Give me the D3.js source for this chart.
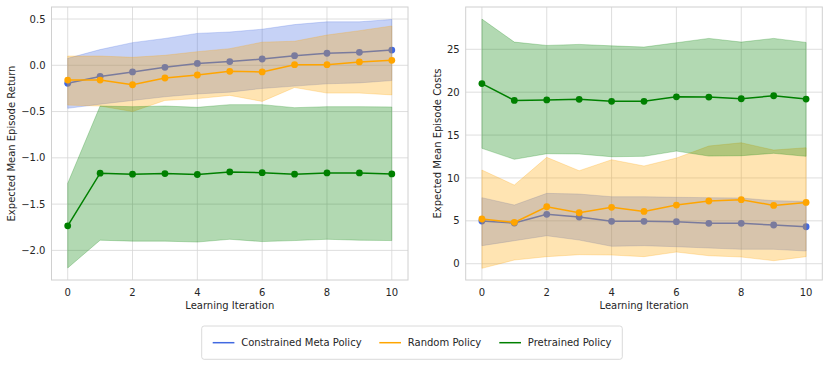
<!DOCTYPE html>
<html>
<head>
<meta charset="utf-8">
<script src="https://cdn.jsdelivr.net/npm/d3@7"></script>
<style>
  body { margin: 0; background: #fff; }
  text { font-family: "DejaVu Sans", sans-serif; fill: #262626; }
</style>
</head>
<body>
<svg width="830" height="367"></svg>
<script>
// iterations
const iters = [0, 1, 2, 3, 4, 5, 6, 7, 8, 9, 10];

const seriesNames = ["Constrained Meta Policy", "Random Policy", "Pretrained Policy"];
const seriesColors = ["#4169e1", "#ffa500", "#008000"];

// left panel: expected mean episode return
const retMeta = [-0.195, -0.12, -0.072, -0.022, 0.02, 0.04, 0.068, 0.104, 0.13, 0.14, 0.165];
const retMetaHi = [0.075, 0.17, 0.245, 0.29, 0.345, 0.36, 0.39, 0.44, 0.47, 0.47, 0.495];
const retMetaLo = [-0.465, -0.42, -0.38, -0.34, -0.31, -0.29, -0.25, -0.225, -0.2, -0.19, -0.165];
const retRand = [-0.16, -0.16, -0.21, -0.137, -0.105, -0.065, -0.072, 0.007, 0.007, 0.036, 0.054];
const retRandHi = [0.1, 0.1, 0.086, 0.108, 0.147, 0.18, 0.25, 0.26, 0.327, 0.374, 0.425];
const retRandLo = [-0.43, -0.44, -0.5, -0.38, -0.36, -0.325, -0.39, -0.24, -0.3, -0.3, -0.32];
const retPre = [-1.735, -1.166, -1.177, -1.17, -1.18, -1.152, -1.16, -1.177, -1.163, -1.163, -1.174];
const retPreHi = [-1.275, -0.44, -0.447, -0.44, -0.454, -0.425, -0.425, -0.458, -0.447, -0.447, -0.45];
const retPreLo = [-2.19, -1.89, -1.9, -1.9, -1.91, -1.88, -1.905, -1.894, -1.88, -1.89, -1.894];

// right panel: expected mean episode costs
const costMeta = [4.98, 4.74, 5.76, 5.44, 4.94, 4.94, 4.9, 4.71, 4.71, 4.51, 4.31];
const costMetaHi = [7.7, 6.84, 8.2, 8.12, 7.81, 7.81, 7.74, 7.7, 7.66, 7.34, 7.27];
const costMetaLo = [2.1, 2.68, 3.26, 2.76, 2.03, 2.1, 1.98, 1.83, 1.68, 1.68, 1.48];
const costRand = [5.21, 4.82, 6.64, 5.94, 6.57, 6.1, 6.84, 7.31, 7.46, 6.8, 7.15];
const costRandHi = [10.92, 9.17, 12.4, 10.84, 12.12, 11.39, 12.32, 13.72, 14.1, 13.25, 13.52];
const costRandLo = [-0.54, 0.43, 0.82, 1.05, 1.01, 0.82, 1.36, 0.93, 0.78, 0.35, 0.82];
const costPre = [21.0, 19.04, 19.1, 19.16, 18.93, 18.93, 19.46, 19.43, 19.23, 19.58, 19.2];
const costPreHi = [28.52, 25.84, 25.45, 25.57, 25.4, 25.26, 25.76, 26.27, 25.84, 26.27, 25.8];
const costPreLo = [13.45, 12.17, 12.82, 12.79, 12.47, 12.52, 13.13, 12.55, 12.59, 12.87, 12.52];

const xTicks = [0, 2, 4, 6, 8, 10];
const retTicks = [0.5, 0.0, -0.5, -1.0, -1.5, -2.0];
const costTicks = [0, 5, 10, 15, 20, 25];

const svg = d3.select("svg");

function panel(opts) {
  const { left, right, top, bottom, xDom, yDom, yTicks, yFmt, ylabel, ylabelX, series } = opts;
  const x = d3.scaleLinear().domain(xDom).range([left, right]);
  const y = d3.scaleLinear().domain(yDom).range([bottom, top]);
  const g = svg.append("g");

  // grid
  g.append("g").selectAll("line").data(xTicks).join("line")
    .attr("x1", d => x(d)).attr("x2", d => x(d))
    .attr("y1", top).attr("y2", bottom)
    .attr("stroke", "#d5d5d5").attr("stroke-width", 0.8);
  g.append("g").selectAll("line").data(yTicks).join("line")
    .attr("x1", left).attr("x2", right)
    .attr("y1", d => y(d)).attr("y2", d => y(d))
    .attr("stroke", "#d5d5d5").attr("stroke-width", 0.8);

  // frame
  g.append("rect").attr("x", left).attr("y", top)
    .attr("width", right - left).attr("height", bottom - top)
    .attr("fill", "none").attr("stroke", "#d0d0d0").attr("stroke-width", 1);

  const area = d3.area().x((d, i) => x(iters[i])).y0(d => y(d[0])).y1(d => y(d[1]));
  const line = d3.line().x((d, i) => x(iters[i])).y(d => y(d));

  series.forEach((s, k) => {
    const band = s.lo.map((v, i) => [v, s.hi[i]]);
    g.append("path").datum(band).attr("d", area)
      .attr("fill", seriesColors[k]).attr("fill-opacity", 0.3)
      .attr("stroke", seriesColors[k]).attr("stroke-opacity", 0.3).attr("stroke-width", 0.8);
    g.append("path").datum(s.mean).attr("d", line)
      .attr("fill", "none").attr("stroke", seriesColors[k]).attr("stroke-width", 1.5);
    g.append("g").selectAll("circle").data(s.mean).join("circle")
      .attr("cx", (d, i) => x(iters[i])).attr("cy", d => y(d)).attr("r", 3.4)
      .attr("fill", seriesColors[k]);
  });

  // tick labels
  g.append("g").selectAll("text").data(xTicks).join("text")
    .attr("x", d => x(d)).attr("y", bottom + 15.5)
    .attr("text-anchor", "middle").attr("font-size", 10).text(d => d);
  g.append("g").selectAll("text").data(yTicks).join("text")
    .attr("x", left - 6).attr("y", d => y(d) + 3.6)
    .attr("text-anchor", "end").attr("font-size", 10).text(yFmt);

  g.append("text").attr("x", (left + right) / 2).attr("y", bottom + 28.5)
    .attr("text-anchor", "middle").attr("font-size", 10).text("Learning Iteration");
  g.append("text")
    .attr("transform", `translate(${ylabelX},${(top + bottom) / 2}) rotate(-90)`)
    .attr("text-anchor", "middle").attr("dy", "0.35em").attr("font-size", 10).text(ylabel);
}

panel({
  left: 51.5, right: 408, top: 7, bottom: 280,
  xDom: [-0.5, 10.5], yDom: [-2.32, 0.63],
  yTicks: retTicks, yFmt: d => d3.format(".1f")(d).replace("-", "\u2212"),
  ylabel: "Expected Mean Episode Return", ylabelX: 11.5,
  series: [
    { mean: retMeta, hi: retMetaHi, lo: retMetaLo },
    { mean: retRand, hi: retRandHi, lo: retRandLo },
    { mean: retPre, hi: retPreHi, lo: retPreLo }
  ]
});

panel({
  left: 465.7, right: 822.3, top: 7, bottom: 280,
  xDom: [-0.5, 10.5], yDom: [-1.9, 29.93],
  yTicks: costTicks, yFmt: d => d,
  ylabel: "Expected Mean Episode Costs", ylabelX: 437,
  series: [
    { mean: costMeta, hi: costMetaHi, lo: costMetaLo },
    { mean: costRand, hi: costRandHi, lo: costRandLo },
    { mean: costPre, hi: costPreHi, lo: costPreLo }
  ]
});

// legend
const lg = svg.append("g");
lg.append("rect").attr("x", 201.7).attr("y", 326).attr("width", 420.6).attr("height", 33.3)
  .attr("rx", 2.5).attr("fill", "#fff").attr("stroke", "#d0d0d0").attr("stroke-width", 0.8);
const legX = [212.7, 379.3, 499.3];
seriesNames.forEach((name, k) => {
  lg.append("line").attr("x1", legX[k]).attr("x2", legX[k] + 21.7)
    .attr("y1", 342.7).attr("y2", 342.7)
    .attr("stroke", seriesColors[k]).attr("stroke-width", 1.5);
  lg.append("text").attr("x", legX[k] + 28.5).attr("y", 346.3)
    .attr("font-size", 10).text(name);
});
</script>
</body>
</html>
